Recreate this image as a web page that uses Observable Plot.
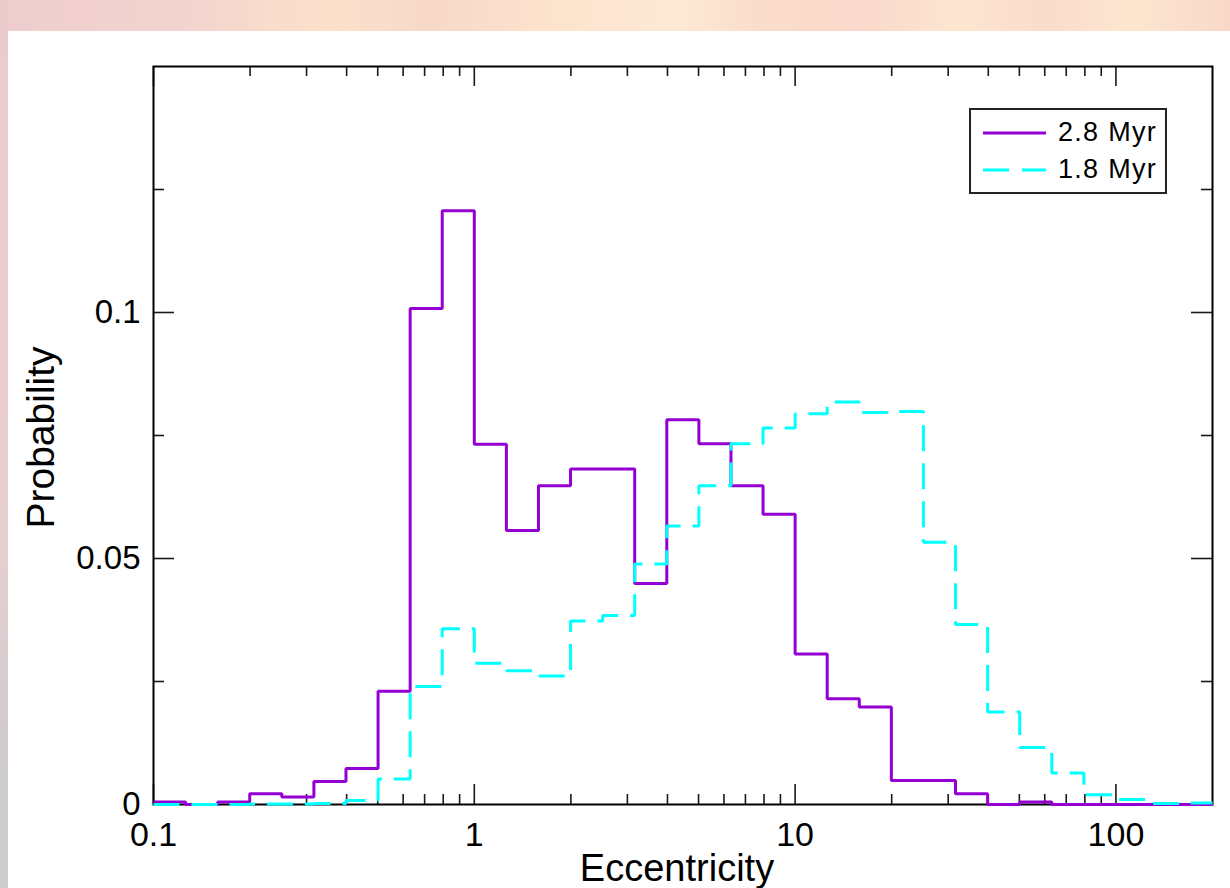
<!DOCTYPE html>
<html>
<head>
<meta charset="utf-8">
<script src="https://cdn.jsdelivr.net/npm/d3@7"></script>
<script src="https://cdn.jsdelivr.net/npm/@observablehq/plot@0.6"></script>
<style>
  html, body { margin: 0; padding: 0; width: 1230px; height: 888px; overflow: hidden; background: #fff;
    font-family: "Liberation Sans", Arial, Helvetica, sans-serif; }
  #topband { position: absolute; left: 0; top: 0; width: 1230px; height: 31px;
    background: linear-gradient(to right, #efcdce 0%, #f3d3cf 15%, #f9dccb 22%, #fbe1cb 27%, #f8d8c9 35%, #fde3cd 45%, #fde9d6 55%, #fbdccb 62%, #fad8cb 70%, #fde6d0 78%, #fbdccd 85%, #fde6cf 92%, #f9d8c9 100%); }
  #leftband { position: absolute; left: 0; top: 0; width: 8px; height: 888px;
    background: linear-gradient(to bottom, #eccbcd 0%, #eccdd0 40%, #e3cfd1 65%, #d2cccc 80%, #cccccc 100%); }
  #panel { position: absolute; left: 8px; top: 31px; right: 0; bottom: 0; background: #fff; }
  #chart { position: absolute; left: 0; top: 0; }
  #legend { position: absolute; left: 969px; top: 108px; }
</style>
</head>
<body>
<div id="topband"></div>
<div id="leftband"></div>
<div id="panel"></div>
<div id="chart"></div>
<svg id="legend" width="199" height="87" xmlns="http://www.w3.org/2000/svg">
  <rect x="1" y="1" width="196" height="84" fill="#fff" stroke="#222" stroke-width="2"></rect>
  <line x1="14" y1="25" x2="77" y2="25" stroke="#9400d3" stroke-width="3"></line>
  <line x1="14" y1="62" x2="77" y2="62" stroke="#00ffff" stroke-width="3" stroke-dasharray="26,13"></line>
  <text x="89" y="33" font-size="27" font-family="Liberation Sans, Arial, sans-serif" letter-spacing="1.3" fill="#000">2.8 Myr</text>
  <text x="89" y="70" font-size="27" font-family="Liberation Sans, Arial, sans-serif" letter-spacing="1.3" fill="#000">1.8 Myr</text>
</svg>
<script>
// Bin edges (0.1 dex logarithmic bins in eccentricity)
const binEdges = [0.1, 0.1259, 0.1585, 0.1995, 0.2512, 0.3162, 0.3981, 0.5012, 0.6310, 0.7943,
  1, 1.259, 1.585, 1.995, 2.512, 3.162, 3.981, 5.012, 6.310, 7.943,
  10, 12.59, 15.85, 19.95, 25.12, 31.62, 39.81, 50.12, 63.10, 79.43,
  100, 125.9, 158.5, 200];

// Probability per bin, 2.8 Myr
const prob28 = [0.0005, 0, 0.0005, 0.0022, 0.0015, 0.0047, 0.0073, 0.0230, 0.1008, 0.1207,
  0.0732, 0.0557, 0.0648, 0.0682, 0.0682, 0.0449, 0.0782, 0.0733, 0.0648, 0.0590,
  0.0306, 0.0215, 0.0198, 0.0049, 0.0049, 0.0022, 0, 0.0005, 0, 0,
  0, 0, 0];

// Probability per bin, 1.8 Myr
const prob18 = [0, 0, 0, 0.0001, 0.0001, 0.0002, 0.0008, 0.0052, 0.0240, 0.0357,
  0.0287, 0.0272, 0.0261, 0.0373, 0.0384, 0.0489, 0.0566, 0.0648, 0.0733, 0.0765,
  0.0794, 0.0818, 0.0797, 0.0799, 0.0533, 0.0366, 0.0188, 0.0116, 0.0064, 0.0020,
  0.0010, 0.0002, 0.0003];

const xMajorTicks = [0.1, 1, 10, 100];
const xMinorTicks = [0.2, 0.3, 0.4, 0.5, 0.6, 0.7, 0.8, 0.9, 2, 3, 4, 5, 6, 7, 8, 9, 20, 30, 40, 50, 60, 70, 80, 90];
const yMajorTicks = [0, 0.05, 0.1];
const yMinorTicks = [0.025, 0.075, 0.125];

const xLabel = "Eccentricity";
const yLabel = "Probability";

function steps(values) {
  return binEdges.map((e, i) => ({x: e, y: values[Math.min(i, values.length - 1)]}));
}

const W = 1230, H = 888, mT = 66, mL = 153, mR = 18, mB = 84;
const FW = W - mL - mR, FH = H - mT - mB;
const tickStroke = "#1a1a1a";

const chart = Plot.plot({
  width: W, height: H,
  marginTop: mT, marginLeft: mL, marginRight: mR, marginBottom: mB,
  style: {background: "transparent", fontFamily: "'Liberation Sans', Arial, Helvetica, sans-serif", overflow: "visible", color: "#000"},
  x: {type: "log", domain: [0.1, 200]},
  y: {domain: [0, 0.15]},
  marks: [
    // bottom ticks
    Plot.ruleX(xMajorTicks, {x: d => d, insetTop: FH - 20, stroke: tickStroke, strokeWidth: 1.6}),
    Plot.ruleX(xMinorTicks, {x: d => d, insetTop: FH - 10, stroke: tickStroke, strokeWidth: 1.6}),
    // top ticks
    Plot.ruleX(xMajorTicks, {x: d => d, insetBottom: FH - 20, stroke: tickStroke, strokeWidth: 1.6}),
    Plot.ruleX(xMinorTicks, {x: d => d, insetBottom: FH - 10, stroke: tickStroke, strokeWidth: 1.6}),
    // left ticks
    Plot.ruleY(yMajorTicks, {y: d => d, insetRight: FW - 21, stroke: tickStroke, strokeWidth: 1.6}),
    Plot.ruleY(yMinorTicks, {y: d => d, insetRight: FW - 11, stroke: tickStroke, strokeWidth: 1.6}),
    // right ticks
    Plot.ruleY(yMajorTicks, {y: d => d, insetLeft: FW - 21, stroke: tickStroke, strokeWidth: 1.6}),
    Plot.ruleY(yMinorTicks, {y: d => d, insetLeft: FW - 11, stroke: tickStroke, strokeWidth: 1.6}),
    Plot.axisX({ticks: xMajorTicks, tickSize: 0, tickPadding: 17, fontSize: 34, tickFormat: d => String(d), label: null}),
    Plot.axisY({ticks: yMajorTicks, tickSize: 0, tickPadding: 13, fontSize: 33, tickFormat: d => String(d), label: null}),
    Plot.frame({stroke: "#000", strokeWidth: 2}),
    Plot.line(steps(prob28), {x: "x", y: "y", curve: "step-after", stroke: "#9400d3", strokeWidth: 3,
      strokeLinejoin: "miter", strokeLinecap: "butt"}),
    Plot.line(steps(prob18), {x: "x", y: "y", curve: "step-after", stroke: "#00ffff", strokeWidth: 3,
      strokeDasharray: "26,12", strokeLinejoin: "miter", strokeLinecap: "butt"}),
    Plot.text([xLabel], {text: d => d, frameAnchor: "bottom", dx: -6, dy: 50, lineAnchor: "top", textAnchor: "middle", fontSize: 38, fill: "#000"}),
    Plot.text([yLabel], {text: d => d, frameAnchor: "left", dx: -112, dy: 2, rotate: -90, textAnchor: "middle", fontSize: 39, fill: "#000"})
  ]
});
document.getElementById("chart").appendChild(chart);
</script>
</body>
</html>
